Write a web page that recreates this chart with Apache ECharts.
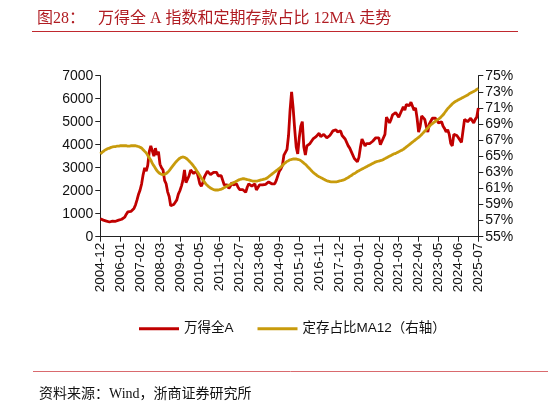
<!DOCTYPE html>
<html>
<head>
<meta charset="utf-8">
<script src="https://cdn.jsdelivr.net/npm/echarts@6/dist/echarts.min.js"></script>
<style>
html,body{margin:0;padding:0;background:#fff;}
#c{width:548px;height:403px;}
</style>
</head>
<body>
<div id="c"></div>
<script>
// months 2004-12 .. 2025-07
function buildMonths(){
  var out=[];var y=2004,m=12;
  while(!(y===2025&&m===8)){out.push(y+'-'+(m<10?'0'+m:m));m++;if(m>12){m=1;y++;}}
  return out;
}
var categories = buildMonths();

var windA = [
  780,
  740,720,700,680,650,640,660,680,690,670,680,720,
  730,760,800,850,980,1080,1090,1100,1160,1230,1380,1600,
  1850,2030,2300,2700,3000,2850,3100,3700,3950,3980,3500,3850,
  3550,3700,3150,3000,2900,2450,2300,1950,1750,1350,1300,1400,
  1500,1600,1850,2000,2200,2450,2900,2350,2500,2650,2900,2850,
  2750,2800,2850,2600,2300,2200,2350,2600,2650,2850,2800,2700,
  2700,2800,2850,2800,2650,2700,2650,2450,2250,2250,2250,2100,
  2200,2350,2250,2300,2300,2150,2050,2000,2050,2000,1930,2150,
  2300,2320,2200,2150,2300,2030,2100,2250,2300,2250,2320,2280,
  2300,2380,2300,2300,2290,2300,2450,2650,2850,2950,3100,3550,
  3600,3800,4400,5500,6300,5600,4700,3900,3600,4300,4800,5000,
  3900,3550,3950,4000,4050,4150,4250,4300,4350,4420,4500,4350,
  4400,4450,4400,4300,4250,4400,4500,4600,4680,4650,4550,4500,
  4600,4400,4350,4250,4200,3950,3850,3700,3650,3400,3450,3260,
  3450,3900,4250,4300,3950,4050,4100,4050,4100,4150,4100,4300,
  4350,4300,4000,4150,4200,4450,5200,5150,4950,5100,5300,5380,
  5400,5350,5200,5250,5500,5650,5500,5750,5800,5700,5850,5920,
  5500,5600,5150,4550,4800,5250,5300,5100,4800,4550,4900,4900,
  5150,5200,5150,5050,4950,4950,5000,4800,4700,4550,4650,4450,
  4050,3950,4450,4500,4400,4300,4250,4100,4600,5100,5050,5000,
  5050,5150,5100,4950,5100,5200,5600
];

var depositRatioMA12 = [
  65.3,
  65.45,65.6,65.75,65.85,65.95,66.0,66.1,66.15,66.2,66.2,66.25,66.25,
  66.3,66.3,66.3,66.3,66.3,66.25,66.25,66.3,66.3,66.3,66.3,66.25,
  66.2,66.1,66.0,65.8,65.6,65.4,65.1,64.8,64.5,64.1,63.8,63.5,
  63.2,63.0,62.85,62.75,62.7,62.75,62.85,63.0,63.2,63.45,63.7,63.95,
  64.2,64.4,64.6,64.75,64.85,64.9,64.85,64.75,64.6,64.4,64.2,64.0,
  63.75,63.5,63.2,62.9,62.6,62.3,62.05,61.8,61.55,61.35,61.2,61.05,
  60.95,60.85,60.8,60.8,60.8,60.85,60.9,61.0,61.1,61.2,61.3,61.4,
  61.5,61.6,61.7,61.8,61.9,62.0,62.1,62.15,62.2,62.2,62.15,62.1,
  62.05,62.0,61.95,61.9,61.9,61.9,61.95,62.0,62.05,62.1,62.15,62.2,
  62.3,62.45,62.6,62.75,62.9,63.05,63.2,63.35,63.5,63.65,63.85,64.05,
  64.2,64.35,64.45,64.55,64.6,64.65,64.65,64.65,64.6,64.55,64.45,64.3,
  64.15,64.0,63.8,63.6,63.4,63.2,63.0,62.85,62.7,62.55,62.45,62.35,
  62.25,62.15,62.05,61.95,61.9,61.85,61.8,61.8,61.8,61.8,61.85,61.9,
  61.95,62.0,62.05,62.15,62.25,62.35,62.5,62.6,62.75,62.85,62.95,63.1,
  63.2,63.3,63.4,63.5,63.6,63.7,63.8,63.9,64.0,64.1,64.2,64.3,
  64.35,64.4,64.45,64.5,64.6,64.7,64.8,64.9,65.0,65.1,65.2,65.3,
  65.35,65.45,65.55,65.65,65.75,65.85,66.0,66.15,66.3,66.45,66.6,66.75,
  66.9,67.05,67.2,67.35,67.5,67.7,67.9,68.1,68.3,68.5,68.7,68.9,
  69.05,69.2,69.35,69.5,69.6,69.75,69.95,70.15,70.4,70.65,70.9,71.1,
  71.3,71.5,71.65,71.8,71.9,72.0,72.1,72.2,72.3,72.4,72.5,72.6,
  72.75,72.85,72.95,73.05,73.15,73.3,73.4
];

var seriesNames = ['万得全A','定存占比MA12（右轴）'];
var titleLabel = '图28：';
var titleText = '万得全 A 指数和定期存款占比 12MA 走势';
var sourceText = '资料来源：Wind，浙商证券研究所';

var RED = '#C00000';
var GOLD = '#C89B0C';
var sans = 'Liberation Sans, Arial, Noto Sans CJK SC, sans-serif';
var serif = 'Liberation Serif, Noto Sans CJK SC, serif';

var chart = echarts.init(document.getElementById('c'), null, {renderer:'canvas'});
chart.setOption({
  animation:false,
  backgroundColor:'#fff',
  title:[
    {text:titleLabel,left:32,top:6,textStyle:{color:'#B01C22',fontSize:16,fontWeight:'normal',fontFamily:serif}},
    {text:titleText,left:93,top:6,textStyle:{color:'#B01C22',fontSize:16,fontWeight:'normal',fontFamily:serif}},
    {text:sourceText,left:34,top:382,textStyle:{color:'#111',fontSize:14,fontWeight:'normal',fontFamily:serif}}
  ],
  graphic:[
    {type:'line',shape:{x1:32,y1:31.5,x2:518,y2:31.5},style:{stroke:'#C0282E',lineWidth:1}},
    {type:'line',shape:{x1:33,y1:371.5,x2:548,y2:371.5},style:{stroke:'#D96A6E',lineWidth:1}}
  ],
  legend:{
    top:317,left:134,itemGap:24,itemWidth:40,itemHeight:3,
    icon:'rect',
    textStyle:{fontSize:13.5,color:'#111',fontFamily:sans},
    data:seriesNames
  },
  grid:{left:100.3,right:69.7,top:75.7,bottom:166.3,containLabel:false},
  xAxis:{
    type:'category',data:categories,boundaryGap:false,
    axisLine:{lineStyle:{color:'#222',width:1}},
    axisTick:{show:true,interval:12,length:5,lineStyle:{color:'#222'}},
    axisLabel:{interval:12,rotate:90,fontSize:13.5,color:'#111',fontFamily:sans,margin:6}
  },
  yAxis:[
    {type:'value',min:0,max:7000,interval:1000,
     splitLine:{show:false},
     axisLine:{show:true,lineStyle:{color:'#222'}},
     axisTick:{show:true,length:5,lineStyle:{color:'#222'}},
     axisLabel:{fontSize:14,color:'#111',fontFamily:sans,margin:7,formatter:function(v){return String(v);}}},
    {type:'value',min:55,max:75,interval:2,
     splitLine:{show:false},
     axisLine:{show:true,lineStyle:{color:'#222'}},
     axisTick:{show:true,length:5,lineStyle:{color:'#222'}},
     axisLabel:{fontSize:14,color:'#111',fontFamily:sans,margin:7,formatter:function(v){return v+'%';}}}
  ],
  series:[
    {name:seriesNames[0],type:'line',data:windA,yAxisIndex:0,showSymbol:false,symbol:'none',
     lineStyle:{color:RED,width:2.8},itemStyle:{color:RED},z:2},
    {name:seriesNames[1],type:'line',data:depositRatioMA12,yAxisIndex:1,showSymbol:false,symbol:'none',smooth:true,
     lineStyle:{color:GOLD,width:2.8},itemStyle:{color:GOLD},z:3}
  ]
});
</script>
</body>
</html>
